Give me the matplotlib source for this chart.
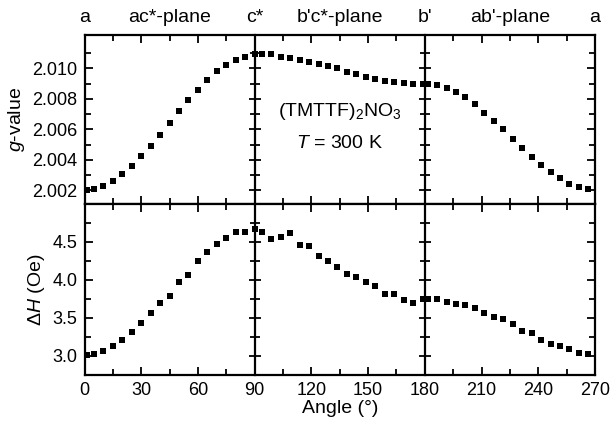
import matplotlib
matplotlib.use("Agg")
import matplotlib.pyplot as plt
from matplotlib.ticker import MultipleLocator, FixedLocator
import matplotlib.transforms as mtransforms

plt.rcParams['font.family'] = ['Liberation Sans', 'DejaVu Sans']
plt.rcParams['mathtext.fontset'] = 'custom'
plt.rcParams['mathtext.rm'] = 'Liberation Sans'
plt.rcParams['mathtext.it'] = 'Liberation Sans:italic'

# ---- data ----
ang_acs = [1.5, 5, 10, 15, 20, 25, 30, 35, 40, 45, 50, 55, 60, 65, 70, 75, 80, 85, 90]
g_acs = [2.00200, 2.00206, 2.00226, 2.00258, 2.00304, 2.00358, 2.00423, 2.00491,
         2.00562, 2.00644, 2.00719, 2.00796, 2.00858, 2.00923, 2.00983, 2.01022,
         2.01057, 2.01077, 2.01094]
dh_acs = [3.01, 3.03, 3.06, 3.13, 3.21, 3.32, 3.44, 3.57, 3.70, 3.79, 3.98, 4.07,
          4.25, 4.37, 4.47, 4.55, 4.63, 4.63, 4.67]

ang_bcs = [93.8, 98.8, 103.8, 108.8, 113.8, 118.8, 123.8, 128.8, 133.8, 138.8,
           143.8, 148.8, 153.8, 158.8, 163.8, 168.8, 173.8, 178.8]
g_bcs = [2.01098, 2.01098, 2.01077, 2.01066, 2.01055, 2.01042, 2.01029, 2.01014,
         2.01000, 2.00979, 2.00962, 2.00947, 2.00929, 2.00921, 2.00910, 2.00903,
         2.00899, 2.00899]
dh_bcs = [4.63, 4.54, 4.56, 4.62, 4.46, 4.45, 4.32, 4.25, 4.17, 4.08, 4.04, 3.98,
          3.92, 3.82, 3.81, 3.74, 3.70, 3.75]

ang_ab = [181.5, 186.5, 191.5, 196.5, 201.5, 206.5, 211.5, 216.5, 221.5, 226.5,
          231.5, 236.5, 241.5, 246.5, 251.5, 256.5, 261.5, 266.5]
g_ab = [2.00899, 2.00892, 2.00873, 2.00845, 2.00810, 2.00765, 2.00710, 2.00655,
        2.00600, 2.00538, 2.00475, 2.00418, 2.00364, 2.00319, 2.00278, 2.00243,
        2.00223, 2.00206]
dh_ab = [3.75, 3.745, 3.71, 3.69, 3.668, 3.633, 3.566, 3.517, 3.482, 3.424, 3.332,
         3.301, 3.204, 3.164, 3.129, 3.098, 3.040, 3.027]

top_labels = ['a', "ac*-plane", 'c*', "b'c*-plane", "b'", "ab'-plane", 'a']
top_label_pos = [0, 45, 90, 135, 180, 225, 270]
xticks = [0, 30, 60, 90, 120, 150, 180, 210, 240, 270]
g_ticks = [2.002, 2.004, 2.006, 2.008, 2.010]
g_minor = [2.003, 2.005, 2.007, 2.009, 2.011]
dh_ticks = [3.0, 3.5, 4.0, 4.5]
dh_minor = [2.75, 3.25, 3.75, 4.25, 4.75]

# ---- figure ----
fig = plt.figure(figsize=(6.10, 4.22), dpi=100)
L, R = 84.5 / 610, 595 / 610
T, M, B = 1 - 35 / 422, 1 - 204 / 422, 1 - 375 / 422
ax1 = fig.add_axes([L, M, R - L, T - M])
ax2 = fig.add_axes([L, B, R - L, M - B], sharex=ax1)

LW = 1.6
MS = 4.6

def style(ax, ymaj, ymin):
    for s in ax.spines.values():
        s.set_linewidth(LW)
    ax.set_xlim(0, 270)
    ax.xaxis.set_major_locator(FixedLocator(xticks))
    ax.xaxis.set_minor_locator(MultipleLocator(15))
    ax.yaxis.set_major_locator(FixedLocator(ymaj))
    ax.yaxis.set_minor_locator(FixedLocator(ymin))
    ax.tick_params(which='both', direction='in', top=True, right=True, width=1.3)
    ax.tick_params(which='major', length=6)
    ax.tick_params(which='minor', length=4)
    ax.tick_params(labelsize=13, pad=5)
    for loc in (1 / 3, 2 / 3):
        sec = ax.secondary_yaxis(loc)
        sec.spines['left'].set_linewidth(LW)
        sec.spines['right'].set_linewidth(LW)
        sec.yaxis.set_major_locator(FixedLocator(ymaj))
        sec.yaxis.set_minor_locator(FixedLocator(ymin))
        sec.tick_params(which='both', direction='inout', width=1.3,
                        labelleft=False, labelright=False)
        sec.tick_params(which='major', length=9)
        sec.tick_params(which='minor', length=7)

for a, g in ((ang_acs, g_acs), (ang_bcs, g_bcs), (ang_ab, g_ab)):
    ax1.plot(a, g, 's', color='black', ms=MS, mew=0, zorder=5, clip_on=False)
for a, d in ((ang_acs, dh_acs), (ang_bcs, dh_bcs), (ang_ab, dh_ab)):
    ax2.plot(a, d, 's', color='black', ms=MS, mew=0, zorder=5, clip_on=False)

ax1.set_ylim(2.0011, 2.0122)
ax2.set_ylim(2.75, 5.0)
style(ax1, g_ticks, g_minor)
style(ax2, dh_ticks, dh_minor)
ax1.yaxis.set_major_formatter(plt.FormatStrFormatter('%.3f'))
ax2.yaxis.set_major_formatter(plt.FormatStrFormatter('%.1f'))
ax1.tick_params(labelbottom=False)

ax1.set_ylabel('$g$-value', fontsize=14, labelpad=4)
ax2.set_ylabel(r'$\mathit{ΔH}$ (Oe)', fontsize=14, labelpad=4)
ax2.set_xlabel('Angle (°)', fontsize=14, labelpad=1)

trans = mtransforms.blended_transform_factory(ax1.transData, ax1.transAxes)
for lab, pos in zip(top_labels, top_label_pos):
    ax1.text(pos, 1.075, lab, transform=trans, ha='center', va='baseline', fontsize=14)

ax1.text(0.5, 0.545, '(TMTTF)$_2$NO$_3$', transform=ax1.transAxes, ha='center',
         va='center', fontsize=14)
ax1.text(0.5, 0.36, '$T$ = 300 K', transform=ax1.transAxes, ha='center',
         va='center', fontsize=14)

fig.savefig('out.png', dpi=100)
